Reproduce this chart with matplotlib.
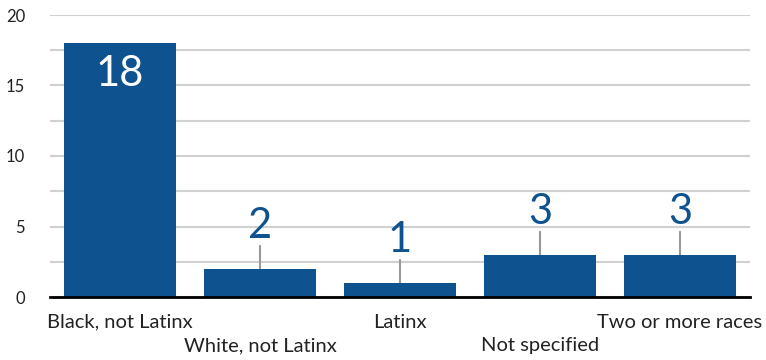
import matplotlib.pyplot as plt
import numpy as np

categories = ["Black, not Latinx", "White, not Latinx", "Latinx",
              "Not specified", "Two or more races"]
counts = [18, 2, 1, 3, 3]

bar_color = "#0f5290"

plt.rcParams['font.family'] = ['Lato', 'DejaVu Sans']

fig = plt.figure(figsize=(7.66, 3.6), dpi=100)
ax = fig.add_axes([50 / 766, 1 - 297 / 360, 700 / 766, 282 / 360])

x = np.arange(len(categories))
ax.bar(x, counts, width=0.8, color=bar_color, zorder=3)

ax.set_xlim(-0.5, len(categories) - 0.5)
ax.set_ylim(0, 20)
ax.set_yticks([0, 5, 10, 15, 20])
ax.set_yticks(np.arange(0, 20.1, 2.5), minor=True)
ax.grid(True, axis='y', which='both', color='#d0d0d0', linewidth=1.5, zorder=0)
ax.tick_params(axis='y', which='both', length=0, pad=18, labelsize=12, labelcolor='#222222')
ax.tick_params(axis='x', length=0)
ax.set_xticks([])
for s in ['top', 'right', 'left']:
    ax.spines[s].set_visible(False)
ax.spines['bottom'].set_color('black')
ax.spines['bottom'].set_linewidth(2)
ax.spines['bottom'].set_zorder(4)

# staggered category labels
for i, name in enumerate(categories):
    off = -18 if i % 2 == 0 else -35
    ax.annotate(name, (i, 0), xytext=(0, off), textcoords='offset points',
                ha='center', va='center', fontsize=14.5, color='#222222',
                annotation_clip=False)

# value labels
for i, v in enumerate(counts):
    if v > 5:
        ax.annotate(str(v), (i, v), xytext=(0, -22), textcoords='offset points',
                    ha='center', va='center', fontsize=30, color='white', zorder=5)
    else:
        ax.annotate("", (i, v), xytext=(0, 16.5), textcoords='offset points',
                    arrowprops=dict(arrowstyle='-', color='#999999', lw=1.5,
                                    shrinkA=0, shrinkB=0), zorder=2)
        ax.annotate(str(v), (i, v), xytext=(0, 31), textcoords='offset points',
                    ha='center', va='center', fontsize=30, color=bar_color)

fig.savefig("out.png", dpi=100)
